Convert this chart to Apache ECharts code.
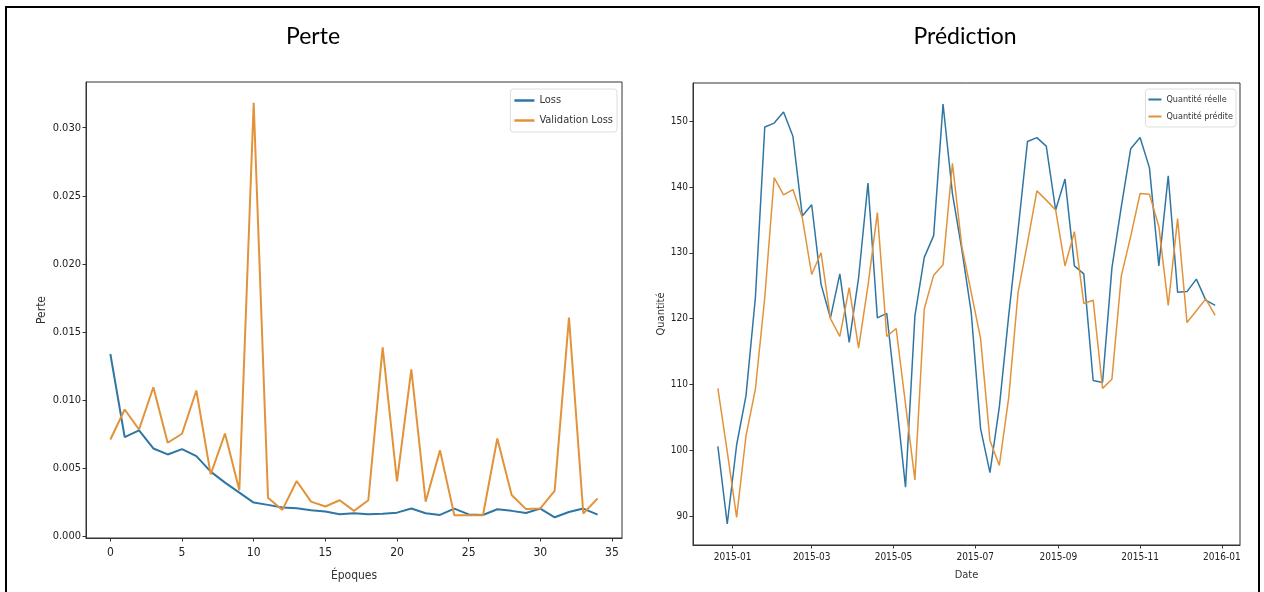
<!DOCTYPE html>
<html><head><meta charset="utf-8">
<script src="https://cdn.jsdelivr.net/npm/echarts@6/dist/echarts.min.js"></script>
<style>html,body{margin:0;padding:0;background:#fff}#c{width:1264px;height:592px}</style>
</head><body><div id="c"></div>
<script>
// ---- Left panel: loss per epoch ----
const EPOCHS = [0,1,2,3,4,5,6,7,8,9,10,11,12,13,14,15,16,17,18,19,20,21,22,23,24,25,26,27,28,29,30,31,32,33,34];
const LOSS = [0.01339,0.00729,0.00778,0.00646,0.00602,0.00641,0.00590,0.00476,0.00395,0.00322,0.00249,0.00232,0.00212,0.00207,0.00193,0.00183,0.00163,0.00170,0.00163,0.00166,0.00175,0.00205,0.00170,0.00158,0.00205,0.00162,0.00158,0.00200,0.00188,0.00172,0.00205,0.00141,0.00180,0.00205,0.00160];
const VAL_LOSS = [0.00712,0.00932,0.00785,0.01095,0.00688,0.00754,0.01071,0.00456,0.00756,0.00339,0.03183,0.00285,0.00195,0.00407,0.00256,0.00220,0.00266,0.00188,0.00266,0.01388,0.00404,0.01227,0.00255,0.00632,0.00156,0.00156,0.00156,0.00719,0.00305,0.00201,0.00206,0.00335,0.01607,0.00169,0.00280];
const LOSS_X_TICKS = [0,5,10,15,20,25,30,35];
const LOSS_Y_TICKS = [0,0.005,0.010,0.015,0.020,0.025,0.030];

// ---- Right panel: real vs predicted quantity ----
const DATES = ['2014-12-21','2014-12-28','2015-01-04','2015-01-11','2015-01-18','2015-01-25','2015-02-01','2015-02-08','2015-02-15','2015-02-22','2015-03-01','2015-03-08','2015-03-15','2015-03-22','2015-03-29','2015-04-05','2015-04-12','2015-04-19','2015-04-26','2015-05-03','2015-05-10','2015-05-17','2015-05-24','2015-05-31','2015-06-07','2015-06-14','2015-06-21','2015-06-28','2015-07-05','2015-07-12','2015-07-19','2015-07-26','2015-08-02','2015-08-09','2015-08-16','2015-08-23','2015-08-30','2015-09-06','2015-09-13','2015-09-20','2015-09-27','2015-10-04','2015-10-11','2015-10-18','2015-10-25','2015-11-01','2015-11-08','2015-11-15','2015-11-22','2015-11-29','2015-12-06','2015-12-13','2015-12-20','2015-12-27'];
const REAL = [100.6,88.8,100.8,108.3,123.2,149.1,149.7,151.4,147.7,135.6,137.3,125.2,120.1,126.8,116.4,126.2,140.6,120.1,120.8,107.8,94.4,120.4,129.3,132.6,152.6,139.0,130.5,121.0,103.3,96.6,106.6,120.5,133.5,146.9,147.5,146.2,136.5,141.2,128.0,126.8,110.6,110.3,127.7,137.0,145.8,147.5,142.9,128.0,141.7,124.0,124.1,126.0,122.8,122.0];
const PRED = [109.4,99.8,89.8,102.2,109.3,123.2,141.4,138.8,139.6,135.3,126.7,130.0,120.0,117.3,124.7,115.5,125.0,136.1,117.3,118.5,107.0,95.5,121.5,126.6,128.2,143.6,131.0,124.0,117.0,101.5,97.7,108.0,124.0,131.5,139.4,138.0,136.5,128.0,133.2,122.3,122.8,109.4,110.8,126.5,132.5,139.0,138.9,134.0,122.0,135.2,119.4,121.2,123.0,120.5];
const DATE_TICKS = ['2015-01','2015-03','2015-05','2015-07','2015-09','2015-11','2016-01'];
const QTY_TICKS = [90,100,110,120,130,140,150];

const BLUE = '#2f76a4', ORANGE = '#e2933a';
const NARROW = "'Liberation Sans Narrow','DejaVu Sans Condensed',sans-serif";
const TITLEF = "Lato,'Open Sans',sans-serif";

function ts(s){ const p = s.split('-').map(Number); return Date.UTC(p[0], p[1]-1, p[2]||1); }
function pad(lo, hi){ const m = (hi-lo)*0.05; return [lo-m, hi+m]; }

const xs = DATES.map(ts);
const xr = pad(Math.min(...xs), Math.max(...xs));
const allQ = REAL.concat(PRED);
const qr = pad(Math.min(...allQ), Math.max(...allQ));
const allL = LOSS.concat(VAL_LOSS);
const lr = pad(Math.min(...allL), Math.max(...allL));
const er = pad(EPOCHS[0], EPOCHS[EPOCHS.length-1]);

function ax(fs, ticks, margin, extra){
  return Object.assign({
    type:'value',
    axisLine:{show:true, onZero:false, lineStyle:{color:'#333', width:1}},
    axisTick:{show:true, length:3.5, lineStyle:{color:'#333'}, customValues:ticks},
    splitLine:{show:false},
    axisLabel:{color:'#222', fontSize:fs, fontFamily:NARROW, margin:margin, customValues:ticks},
    nameLocation:'middle'
  }, extra);
}

const chart = echarts.init(document.getElementById('c'), null, {renderer:'canvas'});
const opt = {
  animation:false,
  backgroundColor:'#fff',
  textStyle:{fontFamily:NARROW},
  title:[
    {text:'Perte', left:308, top:20, textAlign:'center', textStyle:{fontFamily:TITLEF, fontSize:23, fontWeight:'normal', color:'#000'}},
    {text:'Prédiction', left:960, top:20, textAlign:'center', textStyle:{fontFamily:TITLEF, fontSize:23, fontWeight:'normal', color:'#000'}}
  ],
  graphic:[
    {type:'rect', shape:{x:6, y:7, width:1253, height:620}, style:{fill:'none', stroke:'#000', lineWidth:2}, silent:true}
  ],
  legend:[
    {data:['Loss','Validation Loss'], right:647, top:89, orient:'vertical', icon:'rect', itemWidth:20, itemHeight:2.5, itemGap:9,
     padding:[6,4,6,4], borderColor:'#ddd', borderWidth:1, borderRadius:3,
     textStyle:{fontFamily:NARROW, fontSize:11, color:'#333'}},
    {data:['Quantité réelle','Quantité prédite'], right:28, top:89, orient:'vertical', icon:'rect', itemWidth:13, itemHeight:2, itemGap:8,
     padding:[6,3,6,3], borderColor:'#ddd', borderWidth:1, borderRadius:3,
     textStyle:{fontFamily:NARROW, fontSize:9, color:'#333'}}
  ],
  grid:[
    {left:86, top:82, width:536, height:456, show:true, borderColor:'#333', borderWidth:1},
    {left:693, top:83, width:547, height:462, show:true, borderColor:'#333', borderWidth:1}
  ],
  xAxis:[
    ax(12, LOSS_X_TICKS, 9, {gridIndex:0, min:er[0], max:er[1], name:'Époques', nameGap:32,
      nameTextStyle:{fontFamily:NARROW, fontSize:12, color:'#333'}}),
    ax(10, DATE_TICKS.map(ts), 7, {gridIndex:1, min:xr[0], max:xr[1], name:'Date', nameGap:25,
      nameTextStyle:{fontFamily:NARROW, fontSize:11, color:'#333'}})
  ],
  yAxis:[
    ax(11, LOSS_Y_TICKS, 5, {gridIndex:0, min:lr[0], max:lr[1], name:'Perte', nameGap:38,
      nameTextStyle:{fontFamily:NARROW, fontSize:12, color:'#333'}}),
    ax(10, QTY_TICKS, 5, {gridIndex:1, min:qr[0], max:qr[1], name:'Quantité', nameGap:17,
      nameTextStyle:{fontFamily:NARROW, fontSize:11, color:'#333'}})
  ],
  series:[
    {name:'Loss', type:'line', xAxisIndex:0, yAxisIndex:0, data:EPOCHS.map((e,i)=>[e, LOSS[i]]), showSymbol:false, lineStyle:{color:BLUE, width:2}, itemStyle:{color:BLUE}},
    {name:'Validation Loss', type:'line', xAxisIndex:0, yAxisIndex:0, data:EPOCHS.map((e,i)=>[e, VAL_LOSS[i]]), showSymbol:false, lineStyle:{color:ORANGE, width:2}, itemStyle:{color:ORANGE}},
    {name:'Quantité réelle', type:'line', xAxisIndex:1, yAxisIndex:1, data:xs.map((x,i)=>[x, REAL[i]]), showSymbol:false, lineStyle:{color:BLUE, width:1.5}, itemStyle:{color:BLUE}},
    {name:'Quantité prédite', type:'line', xAxisIndex:1, yAxisIndex:1, data:xs.map((x,i)=>[x, PRED[i]]), showSymbol:false, lineStyle:{color:ORANGE, width:1.5}, itemStyle:{color:ORANGE}}
  ]
};
opt.yAxis[0].axisLabel.formatter = function(v){ return v.toFixed(3); };
opt.xAxis[1].axisLabel.formatter = function(v){ const d = new Date(v); return d.getUTCFullYear()+'-'+String(d.getUTCMonth()+1).padStart(2,'0'); };
chart.setOption(opt);
</script></body></html>
